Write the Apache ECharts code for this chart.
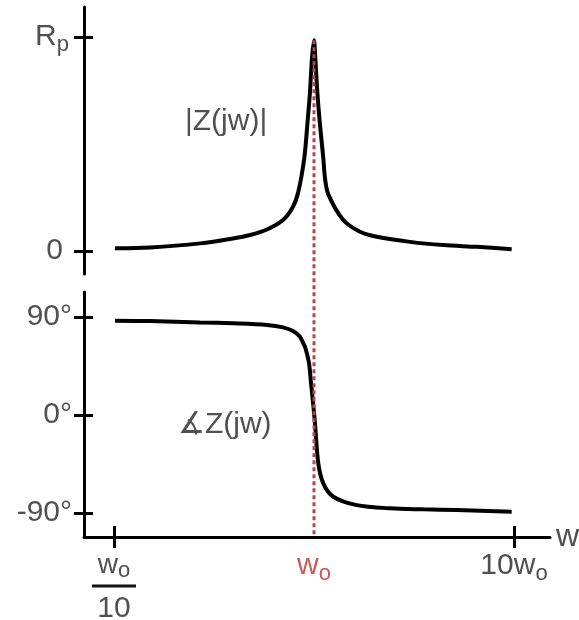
<!DOCTYPE html>
<html>
<head>
<meta charset="utf-8">
<script src="https://cdn.jsdelivr.net/npm/echarts@6/dist/echarts.min.js"></script>
<style>
  html, body { margin: 0; padding: 0; background: #fff; }
  #chart { width: 579px; height: 620px; }
</style>
</head>
<body>
<div id="chart"></div>
<script>
// x is log10(w / w0): -1 = w0/10, 0 = w0, 1 = 10w0
const magX = [-0.995, -0.82, -0.57, -0.405, -0.32, -0.235, -0.155, -0.105, -0.0785, -0.0485, -0.0335, -0.02, -0.01, 0,
  0.0065, 0.0165, 0.03, 0.0465, 0.055, 0.0715, 0.1465, 0.23, 0.3135, 0.48, 0.6465, 0.8135, 0.9885]
// |Z(jw)| as a fraction of Rp
const magY = [0.013, 0.017, 0.036, 0.059, 0.075, 0.101, 0.145, 0.207, 0.277, 0.435, 0.589, 0.744, 0.902, 0.985,
  0.902, 0.744, 0.589, 0.435, 0.340, 0.265, 0.145, 0.090, 0.067, 0.043, 0.028, 0.020, 0.009]

const phaseX = [-0.995, -0.82, -0.57, -0.405, -0.235, -0.155, -0.105, -0.07, -0.0535, -0.045, -0.025, -0.015, -0.0035,
  0.005, 0.0215, 0.0465, 0.0965, 0.2135, 0.38, 0.5465, 0.7135, 0.9885]
// angle of Z(jw), degrees
const phaseY = [86.6, 86.3, 85.1, 84.2, 82.7, 80.5, 77.1, 71.9, 65.8, 62.7, 47.8, 29.4, 9.0,
  -8.0, -44.4, -62.7, -75.0, -82.7, -85.7, -86.6, -87.2, -88.8]

const xTicks = [-1, 1]
const xLabels = [-1, 0, 1]
const magTicks = [0, 1]
const phaseTicks = [-90, 0, 90]

const X_MIN = -1.15, X_MAX = 1.18
const MAG_MIN = -0.107, MAG_MAX = 1.14
const PH_MIN = -112, PH_MAX = 113

// grid geometry (px)
const LEFT = 84, WIDTH = 466
const TOP1 = 7, H1 = 267
const TOP2 = 292, H2 = 245
const OVER_H = TOP2 + H2 - TOP1
const OVER_MIN = MAG_MAX - (MAG_MAX - MAG_MIN) * OVER_H / H1

const FONT = '"Liberation Sans", "DejaVu Sans", Arial, sans-serif'
const GREY = '#505050'
const RED = '#c85a5a'

const zip = (xs, ys) => xs.map((x, i) => [x, ys[i]])

const chart = echarts.init(document.getElementById('chart'))

const hiddenX = (grid) => ({
  type: 'value', gridIndex: grid, min: X_MIN, max: X_MAX,
  show: false, splitLine: { show: false }
})

const axisLine = { show: true, onZero: false, lineStyle: { color: '#000', width: 3 } }
const noLine = { show: false, onZero: false }

// main text + lowered subscript
const mainTok = (color, size, lh) => ({ fontSize: size, lineHeight: lh, verticalAlign: 'top', color: color, fontFamily: FONT })
const subTok = (color, drop) => ({ fontSize: 22, lineHeight: 20, padding: [drop, 0, 0, 0], verticalAlign: 'top', color: color, fontFamily: FONT })

const option = {
  animation: false,
  textStyle: { fontFamily: FONT },
  grid: [
    { left: LEFT, top: TOP1, width: WIDTH, height: H1, outerBoundsMode: 'none' },
    { left: LEFT, top: TOP2, width: WIDTH, height: H2, outerBoundsMode: 'none' },
    { left: LEFT, top: TOP1, width: WIDTH, height: OVER_H, outerBoundsMode: 'none' }
  ],
  xAxis: [
    hiddenX(0),
    {
      type: 'value', gridIndex: 1, min: X_MIN, max: X_MAX, position: 'bottom',
      name: 'w', nameLocation: 'end', nameGap: 6,
      nameTextStyle: { fontSize: 32, color: GREY, fontFamily: FONT, verticalAlign: 'middle', padding: [0, 0, 6, 0] },
      axisLine: axisLine,
      splitLine: { show: false },
      axisTick: { show: true, customValues: xTicks, length: 11, inside: false, lineStyle: { color: '#000', width: 3 } },
      axisLabel: {
        show: true, customValues: xLabels, margin: 14, color: GREY, fontSize: 30, fontFamily: FONT,
        formatter: (v) => v === -1 ? '{fw|w}{fs|o}\n{bar|}\n{ft|10}'
          : v === 0 ? '{rw|w}{rs|o}' : '{n|10w}{s|o}',
        rich: {
          fw: mainTok(GREY, 28, 22),
          fs: subTok(GREY, 9),
          bar: { width: 44, height: 3, lineHeight: 26, backgroundColor: '#111' },
          ft: { fontSize: 30, lineHeight: 20, color: GREY, fontFamily: FONT },
          rw: mainTok(RED, 30, 28),
          rs: subTok(RED, 12),
          n: mainTok(GREY, 30, 28),
          s: subTok(GREY, 12)
        }
      }
    },
    {
      type: 'value', gridIndex: 1, min: X_MIN, max: X_MAX, position: 'bottom',
      axisLine: noLine, splitLine: { show: false }, axisLabel: { show: false },
      axisTick: { show: true, customValues: xTicks, length: 11, inside: true, lineStyle: { color: '#000', width: 3 } }
    },
    hiddenX(2)
  ],
  yAxis: [
    {
      type: 'value', gridIndex: 0, min: MAG_MIN, max: MAG_MAX, position: 'left',
      axisLine: axisLine, splitLine: { show: false },
      axisTick: { show: true, customValues: magTicks, length: 10, lineStyle: { color: '#000', width: 3 } },
      axisLabel: {
        customValues: magTicks, margin: 15, color: GREY, fontSize: 30, fontFamily: FONT,
        formatter: (v) => v === 1 ? '{r|R}{s|p}' : '{z|0}',
        rich: {
          r: mainTok(GREY, 30, 30),
          s: subTok(GREY, 12),
          z: { fontSize: 30, lineHeight: 30, color: GREY, fontFamily: FONT, padding: [0, 6, 0, 0] }
        }
      }
    },
    {
      type: 'value', gridIndex: 0, min: MAG_MIN, max: MAG_MAX, position: 'left',
      axisLine: noLine, splitLine: { show: false }, axisLabel: { show: false },
      axisTick: { show: true, customValues: magTicks, length: 9, inside: true, lineStyle: { color: '#000', width: 3 } }
    },
    {
      type: 'value', gridIndex: 1, min: PH_MIN, max: PH_MAX, position: 'left',
      axisLine: axisLine, splitLine: { show: false },
      axisTick: { show: true, customValues: phaseTicks, length: 10, lineStyle: { color: '#000', width: 3 } },
      axisLabel: {
        customValues: phaseTicks, margin: 12, color: GREY, fontSize: 30, fontFamily: FONT,
        formatter: (v) => v + '°'
      }
    },
    {
      type: 'value', gridIndex: 1, min: PH_MIN, max: PH_MAX, position: 'left',
      axisLine: noLine, splitLine: { show: false }, axisLabel: { show: false },
      axisTick: { show: true, customValues: phaseTicks, length: 9, inside: true, lineStyle: { color: '#000', width: 3 } }
    },
    {
      type: 'value', gridIndex: 2, min: OVER_MIN, max: MAG_MAX, show: false, splitLine: { show: false }
    }
  ],
  series: [
    {
      name: '|Z(jw)|', type: 'line', xAxisIndex: 0, yAxisIndex: 0,
      data: zip(magX, magY), showSymbol: false, smooth: 0.3,
      lineStyle: { color: '#000', width: 4 }, z: 3
    },
    {
      name: 'phase', type: 'line', xAxisIndex: 1, yAxisIndex: 2,
      data: zip(phaseX, phaseY), showSymbol: false, smooth: 0.3,
      lineStyle: { color: '#000', width: 4 }, z: 3
    },
    {
      name: 'w0', type: 'line', xAxisIndex: 3, yAxisIndex: 4,
      data: [[0, Math.max(...magY)], [0, OVER_MIN]], showSymbol: false,
      lineStyle: { color: '#b5474b', width: 3, type: [4, 3] }, z: 4
    }
  ],
  graphic: [
    {
      type: 'text', left: 185, top: 107,
      style: { text: '|Z(jw)|', fontSize: 30, fill: GREY, fontFamily: FONT }
    },
    {
      type: 'text', left: 178, top: 410,
      style: { text: '∡Z(jw)', fontSize: 30, fill: GREY, fontFamily: FONT }
    }
  ]
}

chart.setOption(option)
</script>
</body>
</html>
